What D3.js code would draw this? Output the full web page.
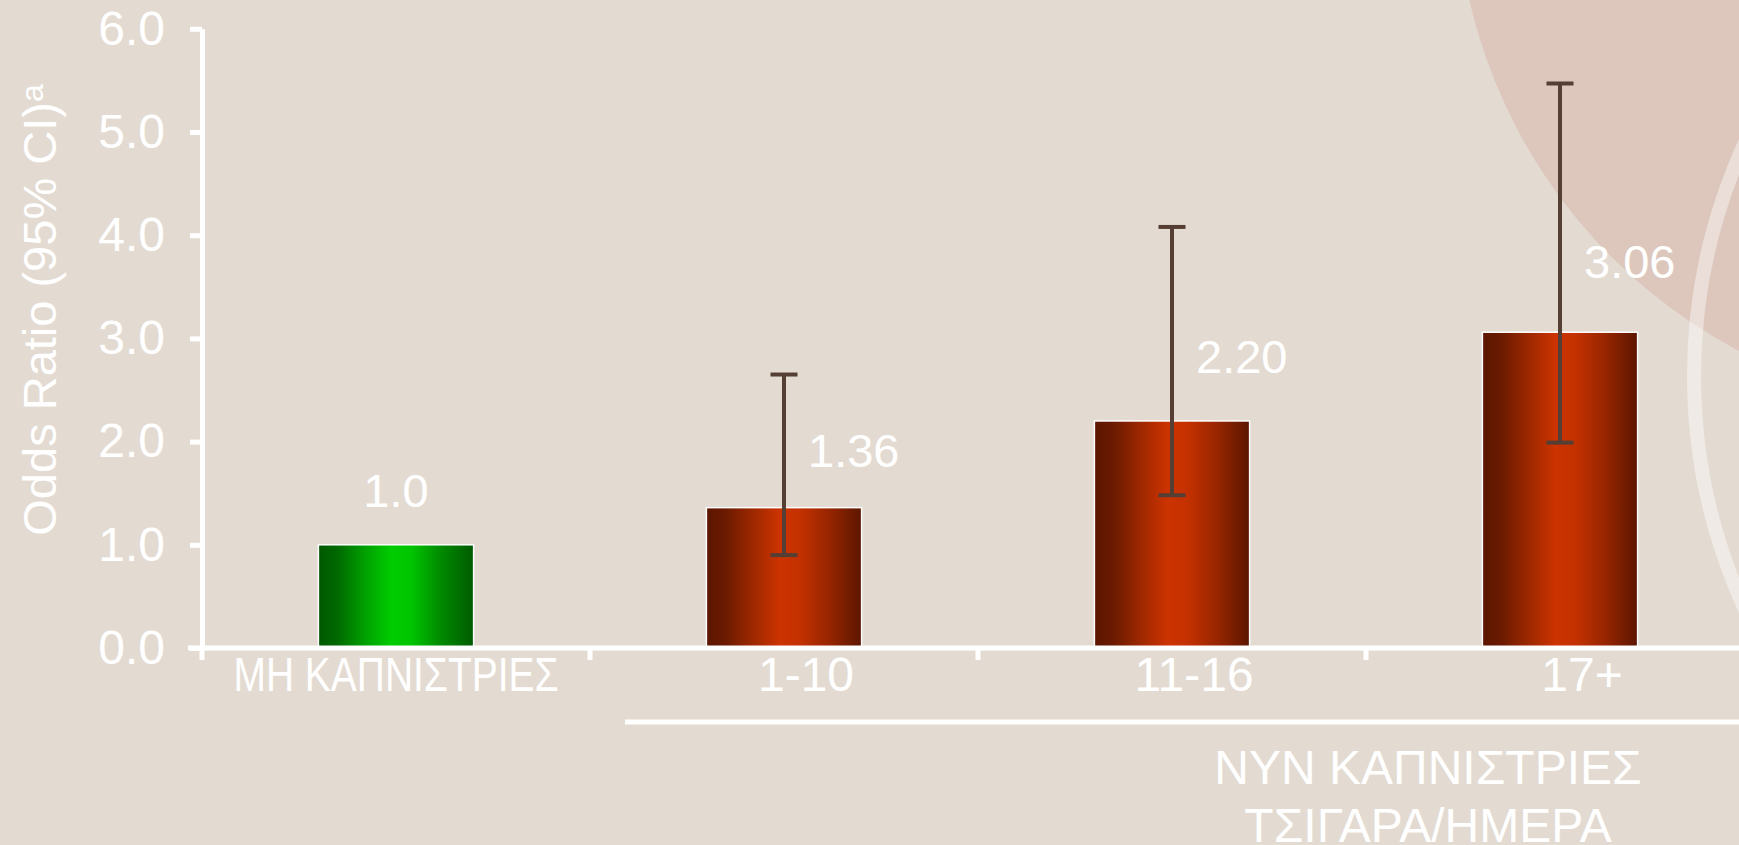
<!DOCTYPE html>
<html><head><meta charset="utf-8">
<script src="https://cdn.jsdelivr.net/npm/d3@7"></script>
<style>
html,body{margin:0;padding:0;background:#e3dbd2;overflow:hidden}
svg{display:block}
text{font-family:"Liberation Sans",Arial,sans-serif;fill:#fff}
</style></head><body>
<svg id="chart" width="1739" height="845"></svg>
<script>
// ---- data ----
const categories = ["ΜΗ ΚΑΠΝΙΣΤΡΙΕΣ", "1-10", "11-16", "17+"];
const oddsRatio = [1.0, 1.36, 2.20, 3.06];
const valueLabels = ["1.0", "1.36", "2.20", "3.06"];
const ciLow = [null, 0.90, 1.48, 1.99];
const ciHigh = [null, 2.65, 4.08, 5.47];
const yTicks = [0, 1, 2, 3, 4, 5, 6];
const groupTitle = ["ΝΥΝ ΚΑΠΝΙΣΤΡΙΕΣ", "ΤΣΙΓΑΡΑ/ΗΜΕΡΑ"];
const yTitle = "Odds Ratio (95% CI)";
const yTitleSup = "a";

// ---- layout ----
const W = 1739, H = 845;
const svg = d3.select("#chart");
const x = d3.scaleBand().domain(categories).range([202, 1754]).padding(0);
const y = d3.scaleLinear().domain([0, 6]).range([648, 28.8]);
const barW = x.bandwidth() * 0.4;
const cx = d => x(d) + x.bandwidth() / 2;

// background
svg.append("rect").attr("width", W).attr("height", H).attr("fill", "#e3dbd2");
svg.append("circle").attr("cx", 1986).attr("cy", -118).attr("r", 530).attr("fill", "#ddc7bc");
svg.append("circle").attr("cx", 2253).attr("cy", 376).attr("r", 559)
  .attr("fill", "none").attr("stroke", "rgba(255,255,255,0.42)").attr("stroke-width", 14);

// gradients
const defs = svg.append("defs");
function grad(id, stops) {
  const g = defs.append("linearGradient").attr("id", id).attr("x1", "0").attr("x2", "1").attr("y1", "0").attr("y2", "0");
  stops.forEach(s => g.append("stop").attr("offset", s[0]).attr("stop-color", s[1]));
}
grad("gGreen", [[0, "#005800"], [0.12, "#006800"], [0.3, "#00a000"], [0.47, "#00cc00"], [0.6, "#00c400"], [0.78, "#008c00"], [1, "#005a00"]]);
grad("gRed", [[0, "#5c1600"], [0.12, "#6a1a00"], [0.3, "#9e2800"], [0.47, "#cc3300"], [0.6, "#c43100"], [0.78, "#9a2600"], [1, "#5c1600"]]);

// bars
const data = categories.map((c, i) => ({c, v: oddsRatio[i], lo: ciLow[i], hi: ciHigh[i], lab: valueLabels[i], i}));
svg.append("g").selectAll("rect").data(data).join("rect")
  .attr("x", d => cx(d.c) - barW / 2)
  .attr("y", d => y(d.v))
  .attr("width", barW)
  .attr("height", d => y(0) - y(d.v))
  .attr("fill", d => d.i === 0 ? "url(#gGreen)" : "url(#gRed)")
  .attr("stroke", "#fff").attr("stroke-width", 1.5);

// error bars
const eb = svg.append("g").attr("stroke", "#553e33").attr("stroke-width", 4);
const ebData = data.filter(d => d.lo != null);
eb.selectAll("line.v").data(ebData).join("line").attr("class", "v")
  .attr("x1", d => cx(d.c)).attr("x2", d => cx(d.c))
  .attr("y1", d => y(d.lo)).attr("y2", d => y(d.hi));
eb.selectAll("line.t").data(ebData).join("line").attr("class", "t")
  .attr("x1", d => cx(d.c) - 13.5).attr("x2", d => cx(d.c) + 13.5)
  .attr("y1", d => y(d.hi)).attr("y2", d => y(d.hi));
eb.selectAll("line.b").data(ebData).join("line").attr("class", "b")
  .attr("x1", d => cx(d.c) - 13.5).attr("x2", d => cx(d.c) + 13.5)
  .attr("y1", d => y(d.lo)).attr("y2", d => y(d.lo));

// y axis
const yAxis = svg.append("g").attr("transform", "translate(202,0)")
  .call(d3.axisLeft(y).tickValues(yTicks).tickFormat(d3.format(".1f")).tickSize(12).tickSizeOuter(0).tickPadding(25));
yAxis.select(".domain").attr("stroke", "#fff").attr("stroke-width", 5);
yAxis.selectAll(".tick line").attr("stroke", "#fff").attr("stroke-width", 5);
yAxis.selectAll(".tick text").attr("fill", "#fff").style("font-size", "48px")
  .style("font-family", '"Liberation Sans",Arial,sans-serif');

// x axis line + boundary ticks
svg.append("line").attr("x1", 188).attr("x2", W).attr("y1", y(0)).attr("y2", y(0))
  .attr("stroke", "#fff").attr("stroke-width", 5);
const bounds = categories.map(c => x(c)).concat([x.range()[1]]);
svg.append("g").selectAll("line").data(bounds).join("line")
  .attr("x1", d => d).attr("x2", d => d).attr("y1", y(0)).attr("y2", y(0) + 12)
  .attr("stroke", "#fff").attr("stroke-width", 5);

// category labels
svg.append("g").selectAll("text").data(data).join("text")
  .attr("x", d => cx(d.c) + (d.i === 0 ? 0 : 22))
  .attr("y", 691)
  .attr("text-anchor", "middle")
  .style("font-size", "48px")
  .each(function (d) {
    if (d.i === 0) d3.select(this).attr("textLength", 325).attr("lengthAdjust", "spacingAndGlyphs");
  })
  .text(d => d.c);

// value labels
svg.append("g").selectAll("text").data(data).join("text")
  .attr("x", d => d.i === 0 ? cx(d.c) : cx(d.c) + 24)
  .attr("y", d => y(d.v) - (30 + 8 * d.v))
  .attr("text-anchor", d => d.i === 0 ? "middle" : "start")
  .style("font-size", "47px")
  .text(d => d.lab);

// group bracket line and title
svg.append("line").attr("x1", x(categories[1]) + 35).attr("x2", W).attr("y1", 722).attr("y2", 722)
  .attr("stroke", "#fff").attr("stroke-width", 5);
svg.append("g").selectAll("text").data(groupTitle).join("text")
  .attr("x", 1428).attr("y", (d, i) => 784 + i * 58)
  .attr("text-anchor", "middle").style("font-size", "48px")
  .text(d => d);

// y title
const yt = svg.append("text").attr("transform", "translate(56,310) rotate(-90)")
  .attr("text-anchor", "middle").style("font-size", "47px").attr("fill", "#f6f1ec");
yt.append("tspan").text(yTitle);
yt.append("tspan").attr("dy", -13).style("font-size", "32px").text(yTitleSup);
</script>
</body></html>
